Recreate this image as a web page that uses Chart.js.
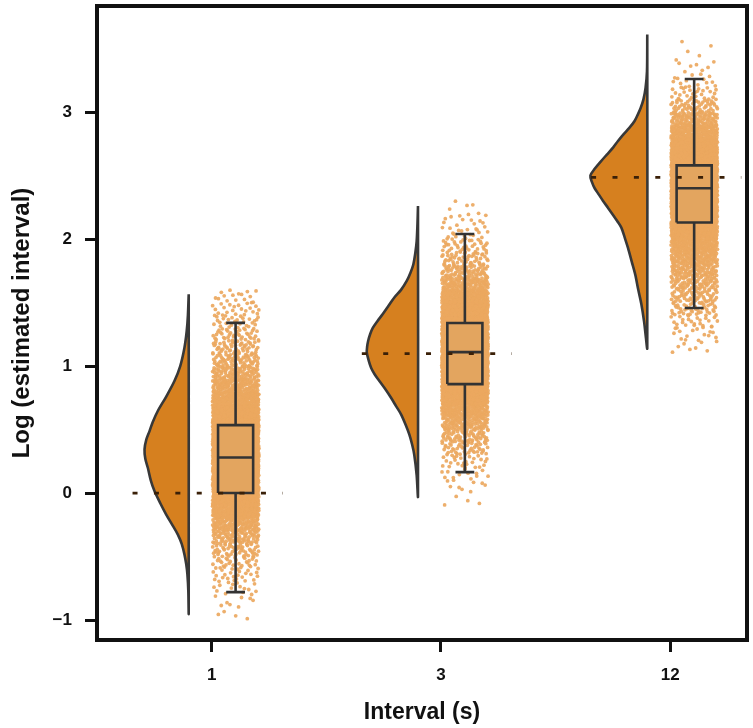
<!DOCTYPE html>
<html>
<head>
<meta charset="utf-8">
<script src="https://cdn.jsdelivr.net/npm/chart.js@4.4.1/dist/chart.umd.min.js"></script>
<style>
  html, body { margin: 0; padding: 0; background: #ffffff; }
  #c { display: block; }
</style>
</head>
<body>
<canvas id="c" width="753" height="728"></canvas>
<script>
// ---------------- DATA ----------------
const categories = ['1', '3', '12'];            // x tick labels (interval in s)
const logIntervals = [0, 1.0986, 2.4849];       // log of the true interval (dashed reference)
const yTickValues = [-1, 0, 1, 2, 3];

// Half-violin outlines: y value and relative density (1 = widest)
const violin1Y = [1.565, 1.40, 1.276, 1.144, 1.0, 0.882, 0.76, 0.646, 0.56, 0.488, 0.42, 0.344, 0.27, 0.199, 0.10, 0.016, -0.08, -0.167, -0.25, -0.325, -0.40, -0.483, -0.56, -0.64, -0.77, -0.945];
const violin1D = [0, 0.014, 0.035, 0.075, 0.149, 0.251, 0.395, 0.544, 0.632, 0.689, 0.746, 0.777, 0.763, 0.719, 0.667, 0.602, 0.5, 0.398, 0.289, 0.193, 0.123, 0.075, 0.044, 0.023, 0.007, 0];
const violin2Y = [2.26, 2.12, 1.984, 1.89, 1.80, 1.735, 1.67, 1.60, 1.54, 1.475, 1.41, 1.355, 1.30, 1.25, 1.197, 1.15, 1.105, 1.045, 0.987, 0.935, 0.882, 0.815, 0.75, 0.685, 0.62, 0.54, 0.462, 0.38, 0.30, 0.14, -0.024];
const violin2D = [0, 0.009, 0.023, 0.047, 0.082, 0.132, 0.198, 0.298, 0.416, 0.518, 0.619, 0.711, 0.795, 0.842, 0.877, 0.895, 0.9, 0.868, 0.825, 0.763, 0.679, 0.57, 0.474, 0.386, 0.298, 0.219, 0.153, 0.102, 0.065, 0.023, 0];
const violin3Y = [3.61, 3.32, 3.19, 3.10, 3.03, 2.98, 2.93, 2.875, 2.82, 2.77, 2.72, 2.665, 2.61, 2.555, 2.50, 2.45, 2.40, 2.35, 2.30, 2.245, 2.19, 2.14, 2.09, 2.01, 1.93, 1.82, 1.72, 1.60, 1.49, 1.35, 1.22, 1.14];
const violin3D = [0, 0.005, 0.03, 0.067, 0.118, 0.167, 0.223, 0.316, 0.426, 0.518, 0.602, 0.711, 0.819, 0.921, 1, 0.974, 0.925, 0.851, 0.777, 0.689, 0.602, 0.526, 0.456, 0.395, 0.339, 0.272, 0.211, 0.158, 0.105, 0.056, 0.023, 0];

// Box plot statistics per interval
const whiskerLow  = [-0.78, 0.165, 1.457];
const quartile1   = [0.0, 0.858, 2.13];
const medians     = [0.28, 1.11, 2.40];
const quartile3   = [0.535, 1.339, 2.58];
const whiskerHigh = [1.34, 2.04, 3.26];

// Raw-point cloud: number of observations per 0.1-wide bin (bin centres)
const cloud1Bins   = [-0.95, -0.85, -0.75, -0.65, -0.55, -0.45, -0.35, -0.25, -0.15, -0.05, 0.05, 0.15, 0.25, 0.35, 0.45, 0.55, 0.65, 0.75, 0.85, 0.95, 1.05, 1.15, 1.25, 1.35, 1.45, 1.55];
const cloud1Counts = [4, 8, 15, 22, 35, 55, 85, 130, 190, 240, 285, 320, 345, 355, 330, 290, 250, 185, 130, 95, 70, 55, 40, 28, 22, 15];
const cloud2Bins   = [-0.05, 0.05, 0.15, 0.25, 0.35, 0.45, 0.55, 0.65, 0.75, 0.85, 0.95, 1.05, 1.15, 1.25, 1.35, 1.45, 1.55, 1.65, 1.75, 1.85, 1.95, 2.05, 2.15, 2.25];
const cloud2Counts = [4, 8, 14, 25, 45, 70, 105, 150, 215, 295, 360, 400, 410, 385, 320, 250, 185, 120, 75, 50, 35, 20, 12, 5];
const cloud3Bins   = [1.15, 1.25, 1.35, 1.45, 1.55, 1.65, 1.75, 1.85, 1.95, 2.05, 2.15, 2.25, 2.35, 2.45, 2.55, 2.65, 2.75, 2.85, 2.95, 3.05, 3.15, 3.25, 3.35, 3.45, 3.55];
const cloud3Counts = [8, 14, 25, 45, 60, 80, 100, 128, 165, 210, 280, 350, 400, 440, 400, 335, 255, 170, 105, 56, 26, 14, 7, 3, 2];

// ---------------- LAYOUT / STYLE ----------------
const VIOLIN_EDGE = -0.100, VIOLIN_WIDTH = 0.248;
const BOX_L = 0.028, BOX_R = 0.181, BOX_C = 0.1045, CAP_HALF = 0.041;
const CLOUD_L = 0.004, CLOUD_R = 0.206, BIN_W = 0.1;
const REF_L = -0.345, REF_R = 0.31;

const violins = [[violin1Y, violin1D], [violin2Y, violin2D], [violin3Y, violin3D]];
const clouds = [[cloud1Bins, cloud1Counts], [cloud2Bins, cloud2Counts], [cloud3Bins, cloud3Counts]];

function halton(i, b) { let f = 1, r = 0; while (i > 0) { f /= b; r += f * (i % b); i = Math.floor(i / b); } return r; }

const datasets = [];
categories.forEach((cat, g) => {
  const pos = g;
  // dashed reference line
  datasets.push({
    type: 'line', order: 0,
    data: [{ x: pos + REF_L, y: logIntervals[g] }, { x: pos + REF_R, y: logIntervals[g] }],
    borderColor: '#3a2008', borderWidth: 2.8, borderDash: [5, 16.4], pointRadius: 0, fill: false
  });
  // whiskers, caps, median
  const c = pos + BOX_C;
  datasets.push({
    type: 'line', order: 1,
    data: [
      { x: c - CAP_HALF, y: whiskerLow[g] }, { x: c + CAP_HALF, y: whiskerLow[g] }, { x: c, y: null },
      { x: c, y: whiskerLow[g] }, { x: c, y: quartile1[g] }, { x: c, y: null },
      { x: c, y: quartile3[g] }, { x: c, y: whiskerHigh[g] }, { x: c, y: null },
      { x: c - CAP_HALF, y: whiskerHigh[g] }, { x: c + CAP_HALF, y: whiskerHigh[g] }, { x: c, y: null },
      { x: pos + BOX_L, y: medians[g] }, { x: pos + BOX_R, y: medians[g] }
    ],
    borderColor: '#333333', borderWidth: 2.6, pointRadius: 0, fill: false, spanGaps: false, borderCapStyle: 'butt'
  });
  // box
  datasets.push({
    type: 'line', order: 2,
    data: [
      { x: pos + BOX_L, y: quartile1[g] }, { x: pos + BOX_R, y: quartile1[g] },
      { x: pos + BOX_R, y: quartile3[g] }, { x: pos + BOX_L, y: quartile3[g] },
      { x: pos + BOX_L, y: quartile1[g] }
    ],
    borderColor: '#333333', borderWidth: 2.6, pointRadius: 0, fill: 'shape',
    backgroundColor: '#E3A55F', borderJoinStyle: 'miter'
  });
  // raw point cloud
  const [bins, counts] = clouds[g];
  const pts = [];
  let idx = 1 + g * 7919;
  bins.forEach((b, k) => {
    for (let n = 0; n < counts[k]; n++, idx++) {
      pts.push({
        x: pos + CLOUD_L + halton(idx, 2) * (CLOUD_R - CLOUD_L),
        y: b - BIN_W / 2 + halton(idx, 3) * BIN_W
      });
    }
  });
  datasets.push({
    type: 'scatter', order: 3, data: pts,
    pointRadius: 1.9, pointBorderWidth: 0, backgroundColor: 'rgba(236,168,95,0.92)', showLine: false
  });
  // half violin
  const [vy, vd] = violins[g];
  const edge = pos + VIOLIN_EDGE;
  const vpts = vy.map((y, k) => ({ x: edge - vd[k] * VIOLIN_WIDTH, y }));
  vpts.push({ x: edge - vd[0] * VIOLIN_WIDTH, y: vy[0] });
  datasets.push({
    type: 'line', order: 4, data: vpts,
    borderColor: '#383838', borderWidth: 2.6, pointRadius: 0, tension: 0.3,
    fill: 'shape', backgroundColor: '#D6801F', borderJoinStyle: 'round'
  });
});

const framePlugin = {
  id: 'frame',
  afterDatasetsDraw(chart) {
    const { ctx, chartArea: a } = chart;
    ctx.save();
    ctx.strokeStyle = '#111111';
    ctx.lineWidth = 4;
    ctx.strokeRect(a.left, a.top, a.right - a.left, a.bottom - a.top);
    ctx.restore();
  }
};

Chart.defaults.font.family = "'Liberation Sans', Arial, sans-serif";

new Chart(document.getElementById('c'), {
  type: 'scatter',
  data: { datasets },
  options: {
    responsive: false,
    animation: false,
    events: [],
    layout: { padding: { top: 6, right: 6, left: 0, bottom: 0 } },
    plugins: {
      legend: { display: false },
      tooltip: { enabled: false },
      filler: { drawTime: 'beforeDatasetDraw' }
    },
    scales: {
      x: {
        type: 'linear', min: -0.5, max: 2.335,
        afterBuildTicks: s => { s.ticks = categories.map((_, i) => ({ value: i })); },
        afterFit: s => { s.height = 88; s.paddingLeft = 0; s.paddingRight = 0; },
        ticks: {
          callback: v => categories[v],
          font: { size: 17, weight: 'bold' }, color: '#111111', padding: 13,
          maxRotation: 0, autoSkip: false
        },
        grid: { display: true, drawOnChartArea: false, drawTicks: true, tickLength: 12, tickWidth: 3, tickColor: '#111111' },
        border: { display: false },
        title: { display: true, text: 'Interval (s)', font: { size: 23, weight: 'bold' }, color: '#111111', padding: { top: 0, bottom: 2 } }
      },
      y: {
        type: 'linear', min: -1.157, max: 3.835,
        afterBuildTicks: s => { s.ticks = yTickValues.map(v => ({ value: v })); },
        afterFit: s => { s.width = 97; s.paddingTop = 0; s.paddingBottom = 0; },
        ticks: {
          callback: v => (v < 0 ? '\u2212' + Math.abs(v) : String(v)),
          font: { size: 17, weight: 'bold' }, color: '#111111', padding: 13
        },
        grid: { display: true, drawOnChartArea: false, drawTicks: true, tickLength: 12, tickWidth: 3, tickColor: '#111111' },
        border: { display: false },
        title: { display: true, text: 'Log (estimated interval)', font: { size: 24, weight: 'bold' }, color: '#111111', padding: { top: 8, bottom: 0 } }
      }
    }
  },
  plugins: [framePlugin]
});
</script>
</body>
</html>
